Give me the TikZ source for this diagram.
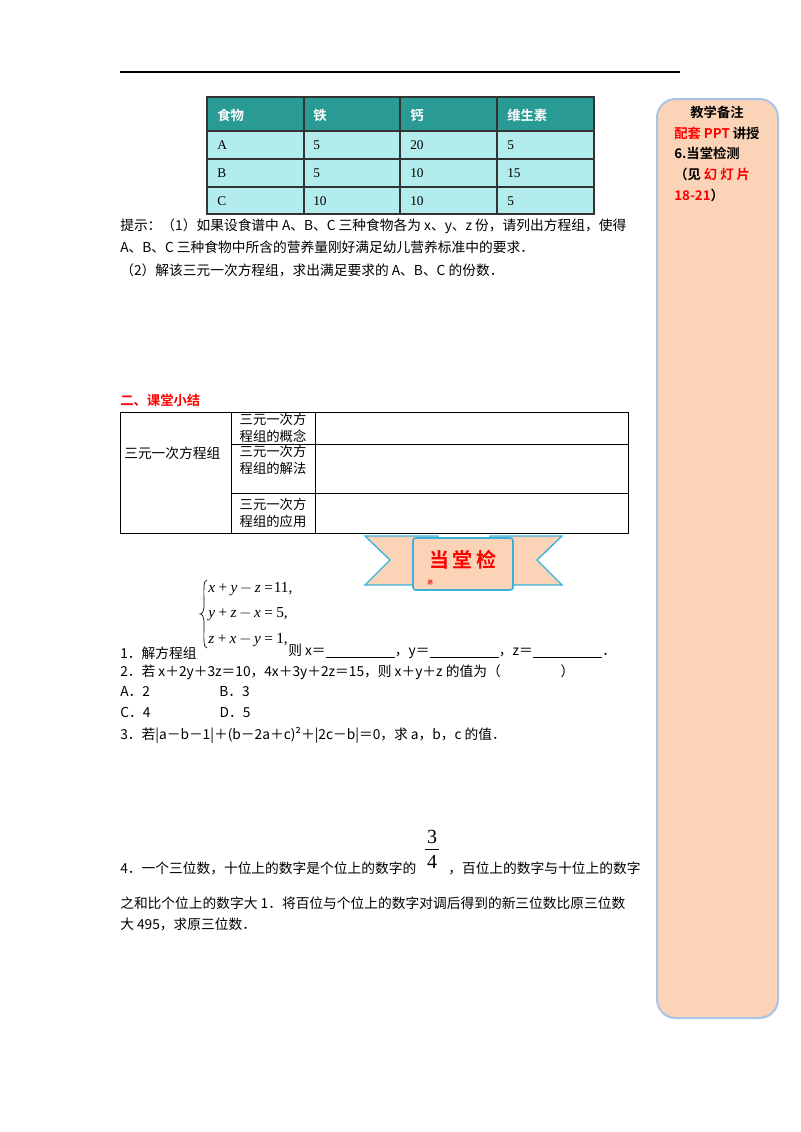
\documentclass[tikz,border=0pt]{standalone}
\usepackage{fontspec}
\setmainfont{Liberation Serif}
\newfontfamily\cjk{Noto Sans CJK SC}
\newfontfamily\cjkb{Noto Sans CJK SC Bold}
\definecolor{teal}{HTML}{2A9A94}
\definecolor{cyanb}{HTML}{B2ECEC}
\definecolor{peach}{HTML}{FBD3B6}
\definecolor{sideb}{HTML}{A9C4E8}
\definecolor{rib}{HTML}{3AB0DC}
\tikzset{t/.style={anchor=west,inner sep=0pt,font=\fontsize{10.3}{12}\selectfont\cjk},
 tw/.style={t,text=white,font=\fontsize{10}{12}\selectfont\cjkb},
 tb/.style={inner sep=0pt,align=left,font=\fontsize{10}{13}\selectfont\cjk},
 eq/.style={anchor=west,inner sep=0pt,font=\fontsize{11.5}{12}\selectfont\itshape}}
\begin{document}
\begin{tikzpicture}[x=0.75pt,y=-0.75pt]
\useasboundingbox (0,0) rectangle (800,1132);
\draw[line width=0.8pt] (120,72) -- (680,72);
% table
\fill[teal] (207,97) rectangle (594,131);
\fill[cyanb] (207,131) rectangle (594,214);
\draw[line width=1pt,black!80] (207,97) rectangle (594,214);
\foreach \x in {304,400,497} \draw[line width=1pt,black!80] (\x,97) -- (\x,214);
\foreach \y in {131,159,187} \draw[line width=1pt,black!80] (207,\y) -- (594,\y);
\node[tw] at (217,115) {食物}; \node[tw] at (313,115) {铁}; \node[tw] at (410,115) {钙}; \node[tw] at (507,115) {维生素};
\foreach \a/\b/\c/\d [count=\i] in {A/5/20/5,B/5/10/15,C/10/10/5}{
 \node[t,font=\fontsize{10}{12}\selectfont] at (217,117+28*\i) {\a};
 \node[t,font=\fontsize{10}{12}\selectfont] at (313,117+28*\i) {\b};
 \node[t,font=\fontsize{10}{12}\selectfont] at (410,117+28*\i) {\c};
 \node[t,font=\fontsize{10}{12}\selectfont] at (507,117+28*\i) {\d};}
\node[t] (h1) at (120,226) {提示：（1）如果设食谱中 A、B、C 三种食物各为 x、y、z 份，请列出方程组，使得};
\node[t] (h2) at (120,247) {A、B、C 三种食物中所含的营养量刚好满足幼儿营养标准中的要求．};
\node[t] (h3) at (120,270) {（2）解该三元一次方程组，求出满足要求的 A、B、C 的份数．};
\node[t,text=red,font=\fontsize{10}{12}\selectfont\cjkb] (s2) at (120,400) {二、课堂小结};
% summary table
\draw[line width=0.6pt] (120,412) rectangle (628,533);
\draw[line width=0.6pt] (231,412) -- (231,533) (315,412) -- (315,533) (231,444) -- (628,444) (231,493) -- (628,493);
\node[t] at (124,453) {三元一次方程组};
\node[tb] at (273,428) {三元一次方\\程组的概念};
\node[tb] at (273,460) {三元一次方\\程组的解法};
\node[tb] at (273,513) {三元一次方\\程组的应用};
% ribbon
\draw[rib,fill=peach,line width=1pt] (365,536) -- (438,536) -- (438,585) -- (365,585) -- (390,560) -- cycle;
\draw[rib,fill=peach,line width=1pt] (562,536) -- (490,536) -- (490,585) -- (562,585) -- (537,560) -- cycle;
\draw[rib,fill=peach,line width=1.2pt,rounded corners=2pt] (413,538) rectangle (513,590);
\node[text=red,font=\fontsize{15}{16}\selectfont\cjkb] (bt) at (463,560) {当\,堂\,检};
\node[text=red,font=\fontsize{4}{4}\selectfont\cjkb] at (430,582) {测};
% equations
\draw[line width=0.5pt] (207,580) .. controls (203,580) and (204,590) .. (204,605) .. controls (204,612) and (202,614) .. (200,614) .. controls (202,614) and (204,616) .. (204,623) .. controls (204,638) and (203,648) .. (207,648);
\node[eq] at (208,589) {x\,+\,y\,$-$\,z\,=\upshape11,};
\node[eq] at (208,614) {y\,+\,z\,$-$\,x\,=\,\upshape5,};
\node[eq] at (208,640) {z\,+\,x\,$-$\,y\,=\,\upshape1,};
\node[t] at (120,653) {1．解方程组};
\node[t] at (288,651) {则 x＝\underline{\hspace{52pt}}，y＝\underline{\hspace{52pt}}，z＝\underline{\hspace{52pt}}．};
\node[t] at (120,672) {2．若 x＋2y＋3z＝10，4x＋3y＋2z＝15，则 x＋y＋z 的值为（\hspace{45pt}）};
\node[t] at (120,692) {A．2\hspace{52pt}B．3};
\node[t] at (120,712) {C．4\hspace{52pt}D．5};
\node[t] at (120,735) {3．若|a－b－1|＋(b－2a＋c)²＋|2c－b|＝0，求 a，b，c 的值．};
\node[font=\fontsize{15}{16}\selectfont] at (432,837) {3};
\draw[line width=0.6pt] (425,849) -- (439,849);
\node[font=\fontsize{15}{16}\selectfont] at (432,862) {4};
\node[t] at (120,868) {4．一个三位数，十位上的数字是个位上的数字的\hspace{24pt}，百位上的数字与十位上的数字};
\node[t] at (120,903) {之和比个位上的数字大 1．将百位与个位上的数字对调后得到的新三位数比原三位数};
\node[t] at (120,924) {大 495，求原三位数．};
% sidebar
\draw[sideb,fill=peach,line width=1.5pt,rounded corners=14pt] (657,99) rectangle (778,1018);
\node[font=\fontsize{10}{12}\selectfont\cjkb] at (717,112) {教学备注};
\node[anchor=west,inner sep=0pt,font=\fontsize{10}{12}\selectfont\cjkb] at (674,133) {\textcolor{red}{配套 PPT} 讲授};
\node[anchor=west,inner sep=0pt,font=\fontsize{10}{12}\selectfont\cjkb] at (674,153) {6.当堂检测};
\node[anchor=west,inner sep=0pt,font=\fontsize{10}{12}\selectfont\cjkb] at (674,174) {（见 \textcolor{red}{幻 灯 片}};
\node[anchor=west,inner sep=0pt,font=\fontsize{10}{12}\selectfont\cjkb] at (674,195) {\textcolor{red}{18-21}）};
\end{tikzpicture}
\end{document}
